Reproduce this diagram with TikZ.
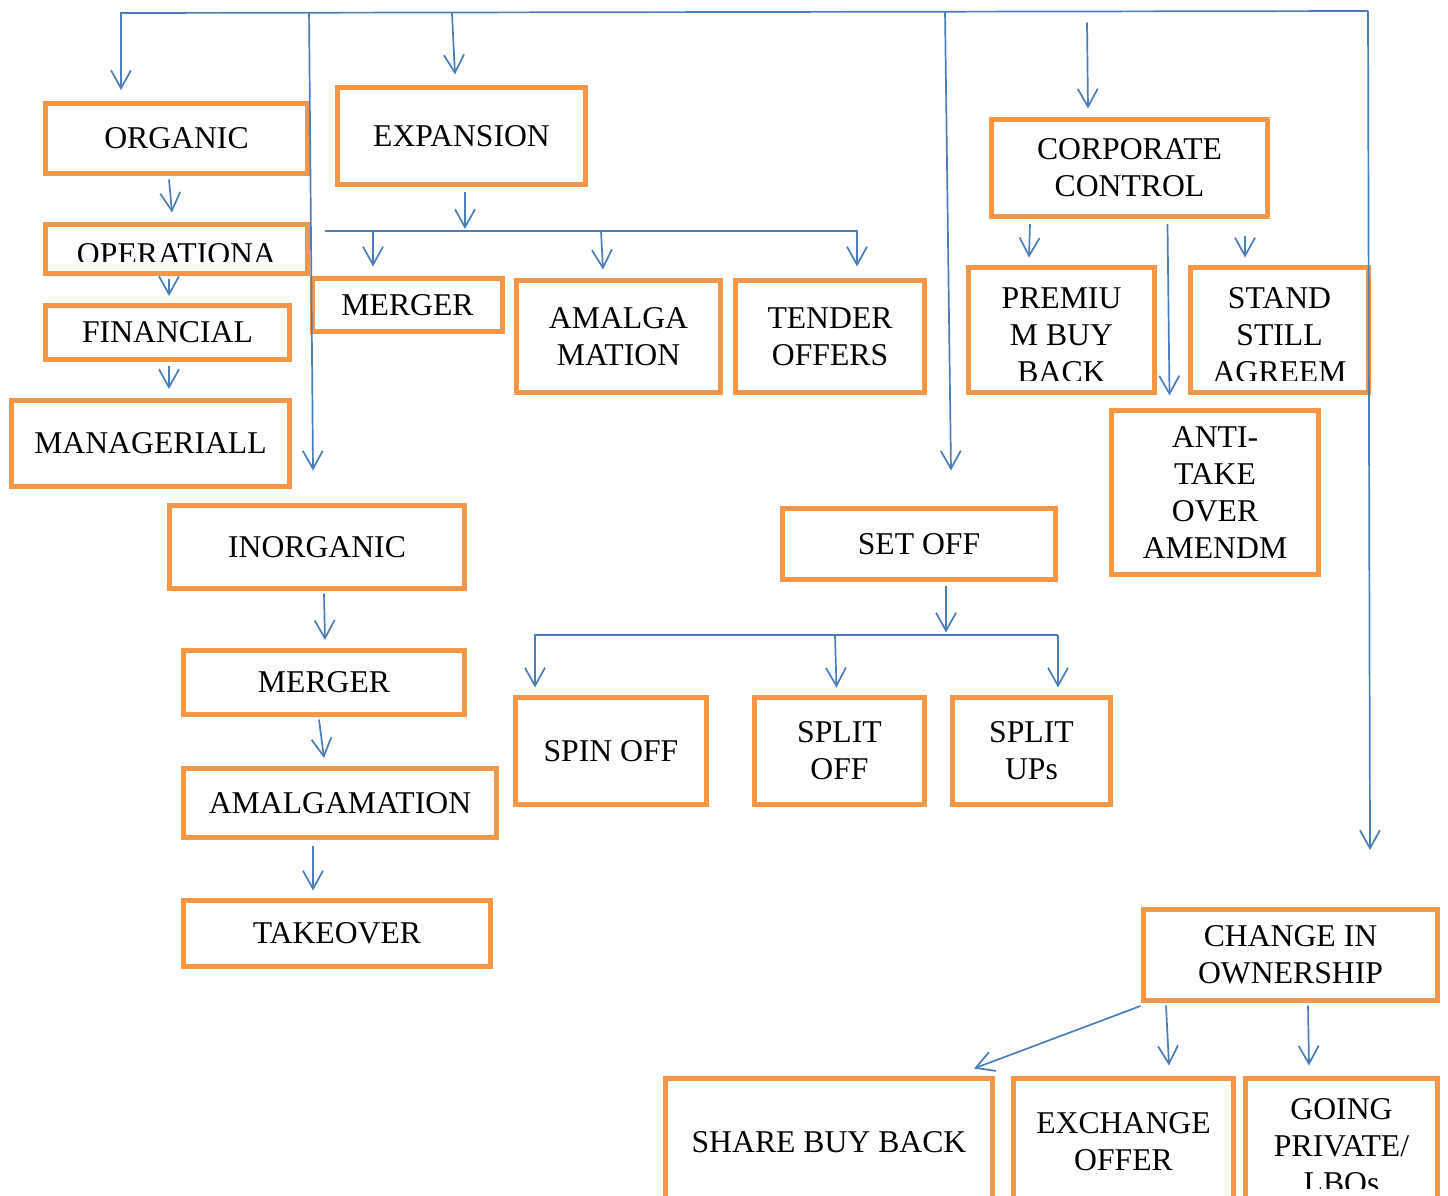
\documentclass[tikz,border=0pt]{standalone}
\usepackage{fontspec}
\setmainfont{Liberation Serif}
\usetikzlibrary{arrows.meta,calc}
\tikzset{
    box/.style={draw=boxorange,line width=5pt,inner sep=0pt,align=center,font=\fontsize{31.7}{37}\selectfont},
    boxtext/.style={inner sep=0pt,align=center,font=\fontsize{31.7}{37}\selectfont},
    link/.style={draw=linkblue,line width=1.7pt},
    arr/.style={link,-{Straight Barb[length=18pt,width=20pt]}}
}
\begin{document}
\begin{tikzpicture}[x=1pt,y=-1pt]
                \definecolor{boxorange}{RGB}{247,150,70}
                \definecolor{linkblue}{RGB}{74,126,187}
                \useasboundingbox [fill=white] (0,0) rectangle (1448,1195);

                \node [box,minimum width=262pt,minimum height=70pt] (organic) at (176.5,138.5) {ORGANIC};
                \node [box,minimum width=248pt,minimum height=97pt] (expansion) at (461.5,136) {EXPANSION};
                \node [box,minimum width=262pt,minimum height=49pt] (operational) at (176.5,249) {};
                \node [box,minimum width=244pt,minimum height=54pt] (financial) at (167.5,332.5) {FINANCIAL};
                \node [box,minimum width=278pt,minimum height=86pt] (managerial) at (150.5,443.5) {MANAGERIALL};
                \node [box,minimum width=190pt,minimum height=53pt] (mergertop) at (407.5,305) {MERGER};
                \node [box,minimum width=204pt,minimum height=112pt] (amalga) at (618.5,336.5) {AMALGA\\MATION};
                \node [box,minimum width=189pt,minimum height=112pt] (tender) at (830,336.5) {TENDER\\OFFERS};
                \node [box,minimum width=276pt,minimum height=97pt] (corporate) at (1129.5,168) {CORPORATE\\CONTROL};
                \node [box,minimum width=186pt,minimum height=125pt] (premium) at (1061.5,330) {};
                \node [box,minimum width=178pt,minimum height=125pt] (standstill) at (1279.5,330) {};
                \node [box,minimum width=207pt,minimum height=164pt] (antitake) at (1215,492.5) {ANTI-\\TAKE\\OVER\\AMENDM};
                \node [box,minimum width=295pt,minimum height=83pt] (inorganic) at (317,547) {INORGANIC};
                \node [box,minimum width=281pt,minimum height=64pt] (mergerbot) at (324,682.5) {MERGER};
                \node [box,minimum width=313pt,minimum height=69pt] (amalgamation) at (340,803) {AMALGAMATION};
                \node [box,minimum width=307pt,minimum height=66pt] (takeover) at (337,933.5) {TAKEOVER};
                \node [box,minimum width=273pt,minimum height=71pt] (setoff) at (919,544) {SET OFF};
                \node [box,minimum width=191pt,minimum height=107pt] (spinoff) at (611,751) {SPIN OFF};
                \node [box,minimum width=170pt,minimum height=107pt] (splitoff) at (839.5,751) {SPLIT\\OFF};
                \node [box,minimum width=158pt,minimum height=107pt] (splitups) at (1031.5,751) {SPLIT\\UPs};
                \node [box,minimum width=294pt,minimum height=91pt] (change) at (1290.5,955) {CHANGE IN\\OWNERSHIP};
                \node [box,minimum width=327pt,minimum height=127pt] (sharebuy) at (829,1142) {SHARE BUY BACK};
                \node [box,minimum width=220pt,minimum height=126pt] (exchange) at (1123.5,1141.5) {EXCHANGE\\OFFER};
                \node [box,minimum width=192pt,minimum height=137pt] (going) at (1341.5,1147) {};

                \begin{scope}
                    \clip (45,224) rectangle (308,261);
                    \node [boxtext,anchor=north] (operational text) at (176.5,243.5) {OPERATIONA};
                \end{scope}
                \begin{scope}
                    \clip (968,268) rectangle (1155,380);
                    \node [boxtext,anchor=north] (premium text) at (1061.5,287.5) {PREMIU\\M BUY\\BACK};
                \end{scope}
                \begin{scope}
                    \clip (1190,268) rectangle (1369,380);
                    \node [boxtext,anchor=north] (standstill text) at (1279.5,287.5) {STAND\\STILL\\AGREEM};
                \end{scope}
                \begin{scope}
                    \clip (1245,1080) rectangle (1438,1188);
                    \node [boxtext,anchor=north] (going text) at (1341.5,1098) {GOING\\PRIVATE/\\LBOs};
                \end{scope}

                \coordinate (bus west) at (121,13);
                \coordinate (bus east) at (1368,11);
                \draw [arr] (bus east) -- (bus west) -- ($(organic.north)+(-55.5,-11)$);
                \draw [arr] (bus east) -- ($(change.north)+(79.5,-57)$);
                \draw [arr] ($(bus west)!0.1508!(bus east)$) -- ($(inorganic.north)+(-4,-32.5)$);
                \draw [arr] ($(bus west)!0.2654!(bus east)$) -- ($(expansion.north)+(-6.5,-10.5)$);
                \draw [arr] ($(bus west)!0.6608!(bus east)$) -- ($(setoff.north)+(32,-35.5)$);
                \draw [arr] ($(corporate.north)+(-42.5,-94.5)$) -- ($(corporate.north)+(-41.5,-8.5)$);

                \draw [arr] ($(organic.south)+(-7.5,3.5)$) -- ($(operational.north)+(-4.5,-9.5)$);
                \draw [arr] ($(operational.south)+(-7.5,3)$) -- ($(financial.north)+(1.5,-7)$);
                \draw [arr] ($(financial.south)+(1.5,3.5)$) -- ($(managerial.north)+(18.5,-9)$);

                \draw [arr] ($(expansion.south)+(3.5,4.5)$) -- ($(expansion.south)+(3.5,42)$);
                \draw [arr] ($(mergertop.north)+(-83,-45)$) -- ($(tender.north)+(27,-47)$) -- ($(tender.north)+(27,-11.5)$);
                \draw [arr] ($(mergertop.north)+(-34.5,-45)$) -- ($(mergertop.north)+(-34.5,-9.5)$);
                \draw [arr] ($(amalga.north)+(-17.5,-47)$) -- ($(amalga.north)+(-15.5,-8.5)$);

                \draw [arr] ($(corporate.south)+(-99.5,5)$) -- ($(premium.north)+(-32.5,-7.5)$);
                \draw [arr] ($(corporate.south)+(38,5)$) -- ($(antitake.north)+(-45.5,-12.5)$);
                \draw [arr] ($(corporate.south)+(115.5,16.5)$) -- ($(standstill.north)+(-34.5,-7.5)$);

                \draw [arr] ($(inorganic.south)+(7,2.5)$) -- ($(mergerbot.north)+(1,-8)$);
                \draw [arr] ($(mergerbot.south)+(-5,2.5)$) -- ($(amalgamation.north)+(-16,-8)$);
                \draw [arr] ($(amalgamation.south)+(-27,5.5)$) -- ($(takeover.north)+(-24,-7.5)$);

                \draw [arr] ($(setoff.south)+(27,3.5)$) -- ($(setoff.south)+(27,50.5)$);
                \draw [arr] ($(splitups.north)+(26.5,-60)$) -- ($(spinoff.north)+(-76,-60)$) -- ($(spinoff.north)+(-76,-7.5)$);
                \draw [arr] ($(splitups.north)+(26.5,-60)$) -- ($(splitups.north)+(26.5,-7.5)$);
                \draw [arr] ($(splitoff.north)+(-4.5,-60)$) -- ($(splitoff.north)+(-3,-7.5)$);

                \draw [arr] ($(change.south west)+(-0.5,3)$) -- ($(sharebuy.north)+(145,-7.5)$);
                \draw [arr] ($(change.south)+(-124.5,2.5)$) -- ($(exchange.north)+(45.5,-10.5)$);
                \draw [arr] ($(change.south)+(17.5,2.5)$) -- ($(going.north)+(-32.5,-10.5)$);
\end{tikzpicture}
\end{document}
